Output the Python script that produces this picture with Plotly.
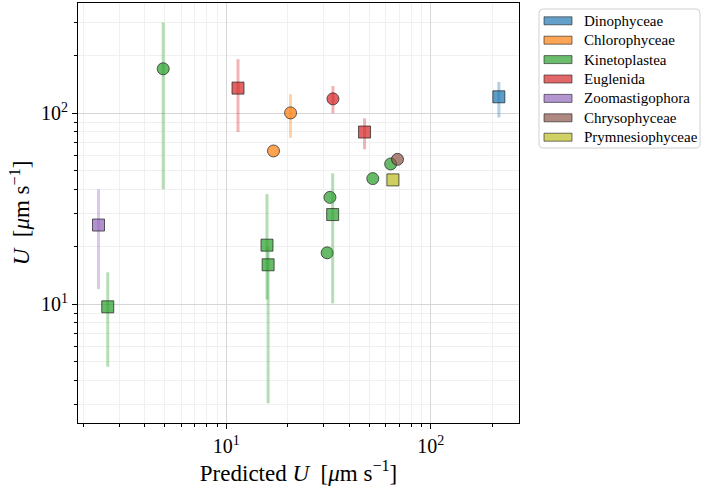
import plotly.graph_objects as go

# ---------------- data ----------------
categories = ["Dinophyceae", "Chlorophyceae", "Kinetoplastea", "Euglenida",
              "Zoomastigophora", "Chrysophyceae", "Prymnesiophyceae"]

pt_group = ["Dinophyceae",
            "Chlorophyceae", "Chlorophyceae",
            "Kinetoplastea", "Kinetoplastea", "Kinetoplastea", "Kinetoplastea", "Kinetoplastea",
            "Kinetoplastea", "Kinetoplastea", "Kinetoplastea", "Kinetoplastea",
            "Euglenida", "Euglenida", "Euglenida",
            "Zoomastigophora", "Chrysophyceae", "Prymnesiophyceae"]
pt_kind = ["square",
           "circle", "circle",
           "circle", "circle", "circle", "circle", "circle",
           "square", "square", "square", "square",
           "square", "circle", "square",
           "square", "circle", "square"]
pt_pred = [215.0,
           20.6, 17.0,
           4.91, 32.1, 52.0, 63.6, 31.1,
           2.63, 15.8, 16.0, 33.1,
           11.4, 33.2, 47.4,
           2.37, 68.7, 65.2]
pt_U = [122.0,
        100.5, 63.5,
        171.0, 36.3, 45.5, 54.3, 18.6,
        9.7, 20.4, 16.1, 29.5,
        135.5, 119.0, 79.8,
        26.0, 57.4, 44.8]
pt_U_lo = [95.0,
           74.5, None,
           40.0, None, None, None, None,
           4.71, 10.6, 3.03, 10.1,
           79.8, 100.0, 64.8,
           12.0, None, None]
pt_U_hi = [146.0,
           126.0, None,
           299.0, None, None, None, None,
           14.7, 37.7, 20.0, 48.5,
           192.0, 139.0, 94.1,
           40.0, None, None]

x_tick_vals = [10, 100]
x_tick_text = ["10<sup>1</sup>", "10<sup>2</sup>"]
y_tick_vals = [10, 100]
y_tick_text = ["10<sup>1</sup>", "10<sup>2</sup>"]
minor_vals = [2, 3, 4, 5, 6, 7, 8, 9, 20, 30, 40, 50, 60, 70, 80, 90, 200, 300]

# ---------------- style ----------------
base_rgb = {
    "Dinophyceae": (31, 119, 180),
    "Chlorophyceae": (255, 127, 14),
    "Kinetoplastea": (44, 160, 44),
    "Euglenida": (214, 39, 40),
    "Zoomastigophora": (148, 103, 189),
    "Chrysophyceae": (140, 86, 75),
    "Prymnesiophyceae": (188, 189, 34),
}
symbol_of = {"circle": "circle", "square": "square"}
FONT = "Liberation Serif"


def rgba(c, a):
    return "rgba(%d,%d,%d,%.2f)" % (c[0], c[1], c[2], a)


fig = go.Figure()

for i in range(len(pt_pred)):
    c = base_rgb[pt_group[i]]
    err = None
    if pt_U_lo[i] is not None:
        err = dict(type="data", symmetric=False,
                   array=[pt_U_hi[i] - pt_U[i]],
                   arrayminus=[pt_U[i] - pt_U_lo[i]],
                   color=rgba(c, 0.35), thickness=3, width=0)
    fig.add_trace(go.Scatter(
        x=[pt_pred[i]], y=[pt_U[i]], mode="markers",
        marker=dict(symbol=symbol_of[pt_kind[i]], size=12,
                    color=rgba(c, 0.72),
                    line=dict(color="rgba(30,30,30,0.7)", width=1)),
        error_y=err, showlegend=False, name=pt_group[i]))

# ---------------- layout ----------------
L, R, T, B = 78, 185, 3, 68
W, H = 704, 491
pw, ph = W - L - R, H - T - B


def px2paper(x, y):
    return (x - L) / pw, (H - B - y) / ph


def rounded_box(xa, ya, xb, yb, r):
    def P(x, y):
        u, v = px2paper(x, y)
        return "%.5f,%.5f" % (u, v)
    path = ("M" + P(xa + r, ya) + " L" + P(xb - r, ya) + " Q" + P(xb, ya) + " " + P(xb, ya + r) +
            " L" + P(xb, yb - r) + " Q" + P(xb, yb) + " " + P(xb - r, yb) +
            " L" + P(xa + r, yb) + " Q" + P(xa, yb) + " " + P(xa, yb - r) +
            " L" + P(xa, ya + r) + " Q" + P(xa, ya) + " " + P(xa + r, ya) + " Z")
    return path


shapes = []
annotations = []
# legend frame
shapes.append(dict(type="path", xref="paper", yref="paper", path=rounded_box(539, 9, 700, 148, 4),
                   line=dict(color="#d0d0d0", width=1), fillcolor="white", layer="above"))
for k, cat in enumerate(categories):
    cy = 20.8 + k * 19.4
    a0, b0 = px2paper(544, cy - 4)
    a1, b1 = px2paper(572, cy + 4)
    shapes.append(dict(type="rect", xref="paper", yref="paper", x0=a0, x1=a1, y0=b1, y1=b0,
                       fillcolor=rgba(base_rgb[cat], 0.7),
                       line=dict(color="rgba(30,30,30,0.6)", width=1), layer="above"))
    tx, ty = px2paper(582, cy)
    annotations.append(dict(xref="paper", yref="paper", x=tx, y=ty, text=cat,
                            showarrow=False, xanchor="left", yanchor="middle",
                            font=dict(family=FONT, size=15, color="black")))

axis_common = dict(
    type="log", showline=True, linecolor="black", linewidth=1.2, mirror=True,
    ticks="outside", ticklen=5, tickwidth=1, tickcolor="black",
    showgrid=True, gridcolor="#d6d6d6", gridwidth=1.2, zeroline=False,
    tickfont=dict(family=FONT, size=20, color="black"),
    minor=dict(tickmode="array", tickvals=minor_vals, ticks="outside", ticklen=3,
               tickwidth=1, tickcolor="black", showgrid=True, gridcolor="#f0f0f0", gridwidth=1),
)

fig.update_layout(
    width=W, height=H, margin=dict(l=L, r=R, t=T, b=B, autoexpand=False),
    paper_bgcolor="white", plot_bgcolor="white",
    shapes=shapes, annotations=annotations, showlegend=False,
    xaxis=dict(axis_common, range=[0.2745, 2.431], tickvals=x_tick_vals, ticktext=x_tick_text,
               title=dict(text="Predicted <i>U</i>  [<i>μ</i>m s<sup>−1</sup>]",
                          font=dict(family=FONT, size=23, color="black"), standoff=2)),
    yaxis=dict(axis_common, range=[0.3785, 2.5775], tickvals=y_tick_vals, ticktext=y_tick_text,
               title=dict(text="<i>U</i>  [<i>μ</i>m s<sup>−1</sup>]",
                          font=dict(family=FONT, size=23, color="black"), standoff=4)),
)

fig.write_html("out.html", config={"displayModeBar": False},
               post_script="document.body.style.margin='0px';")
